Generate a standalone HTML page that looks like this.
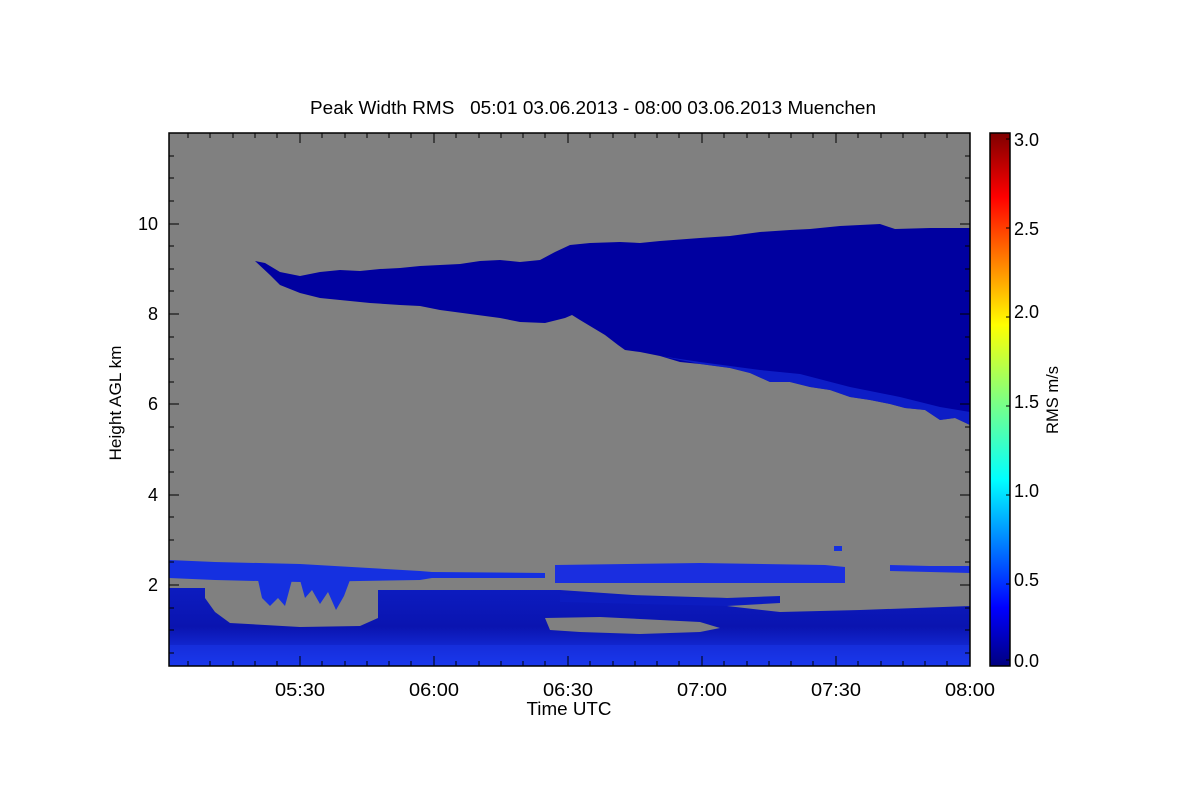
<!DOCTYPE html>
<html><head><meta charset="utf-8"><style>
body{margin:0;background:#fff;}
svg text{font-family:"Liberation Sans",sans-serif;fill:#000;}
</style></head><body>
<svg width="1200" height="800" viewBox="0 0 1200 800" xmlns="http://www.w3.org/2000/svg">
<defs>
<linearGradient id="cb" x1="0" y1="1" x2="0" y2="0">
<stop offset="0" stop-color="#00007f"/>
<stop offset="0.11" stop-color="#0000ff"/>
<stop offset="0.35" stop-color="#00ffff"/>
<stop offset="0.5" stop-color="#80ff80"/>
<stop offset="0.64" stop-color="#ffff00"/>
<stop offset="0.88" stop-color="#ff0000"/>
<stop offset="1" stop-color="#7f0000"/>
</linearGradient>
<linearGradient id="low" x1="0" y1="588" x2="0" y2="666" gradientUnits="userSpaceOnUse">
<stop offset="0" stop-color="#0c1cc0"/>
<stop offset="0.5" stop-color="#0a14b0"/>
<stop offset="1" stop-color="#1a3af0"/>
</linearGradient>
</defs>
<rect x="169" y="133" width="801" height="533" fill="#808080"/>
<!-- upper cloud -->
<polygon fill="#0000a0" points="255,261 265,263 280,272 300,276 320,272 340,270 360,271 380,269 400,268 420,266 440,265 460,264 480,261 500,260 520,262 540,260 555,252 570,245 590,243 620,242 640,243 660,241 700,238 730,236 760,232 790,230 810,229 840,226 880,224 895,229 930,228 970,228 970,425 955,418 940,420 925,410 905,408 890,404 870,400 850,397 830,390 810,387 790,382 770,382 750,373 730,368 700,364 680,362 660,356 640,352 625,350 618,345 605,335 590,326 580,320 572,315 565,318 545,323 520,322 500,318 470,314 440,310 420,306 400,305 370,303 340,300 320,298 300,293 280,285 270,275"/>
<polygon fill="#1530e0" opacity="0.6" points="660,356 700,362 760,370 800,374 850,387 900,397 940,407 970,412 970,425 955,418 940,420 925,410 905,408 890,404 870,400 850,397 830,390 810,387 790,382 770,382 750,373 730,368 700,364"/>
<!-- lower mass -->
<polygon fill="url(#low)" points="169,588 205,588 205,598 215,612 230,623 300,627 360,626 378,618 378,590 560,590 633,595 727,598 727,606 780,612 860,610 970,606 970,666 169,666"/>
<polygon fill="#808080" points="545,618 600,617 660,620 700,622 720,628 700,632 640,634 580,632 550,630"/>
<rect x="169" y="645" width="801" height="21" fill="#1a36e8" opacity="0.5"/>
<!-- bands -->
<polygon fill="#1530e0" points="169,560 215,562 300,564 420,571 432,572 545,573 545,578 432,578 420,580 300,582 215,580 169,578"/>
<polygon fill="#1530e0" points="258,580 262,598 270,606 278,598 285,606 292,580"/>
<polygon fill="#1530e0" points="300,580 305,598 312,590 320,604 328,592 336,610 344,596 350,580"/>
<polygon fill="#1a2ee0" points="555,565 700,563 825,565 845,567 845,583 700,583 555,583"/>
<polygon fill="#0c1cc0" points="560,594 633,596 727,598 780,596 780,603 727,606 640,604 560,602"/>
<polygon fill="#1a30e0" points="890,565 930,566 970,566 970,573 930,572 890,571"/>
<rect x="834" y="546" width="8" height="5" fill="#1530e0"/>
<!-- frame -->
<rect x="169" y="133" width="801" height="533" fill="none" stroke="#000" stroke-width="1.5"/>
<g stroke="#000" stroke-width="1">
<path d="M300,666v-10M434,666v-10M568,666v-10M702,666v-10M836,666v-10M300,133v10M434,133v10M568,133v10M702,133v10M836,133v10"/>
<path d="M188,666v-5M210,666v-5M233,666v-5M255,666v-5M277,666v-5M322,666v-5M345,666v-5M367,666v-5M389,666v-5M411,666v-5M456,666v-5M479,666v-5M501,666v-5M523,666v-5M545,666v-5M590,666v-5M613,666v-5M635,666v-5M657,666v-5M679,666v-5M724,666v-5M747,666v-5M769,666v-5M791,666v-5M813,666v-5M858,666v-5M881,666v-5M903,666v-5M925,666v-5M947,666v-5"/>
<path d="M188,133v5M210,133v5M233,133v5M255,133v5M277,133v5M322,133v5M345,133v5M367,133v5M389,133v5M411,133v5M456,133v5M479,133v5M501,133v5M523,133v5M545,133v5M590,133v5M613,133v5M635,133v5M657,133v5M679,133v5M724,133v5M747,133v5M769,133v5M791,133v5M813,133v5M858,133v5M881,133v5M903,133v5M925,133v5M947,133v5"/>
<path d="M169,224h10M169,314h10M169,404h10M169,495h10M169,585h10M970,224h-10M970,314h-10M970,404h-10M970,495h-10M970,585h-10"/>
<path d="M169,156h5M169,178h5M169,201h5M169,246h5M169,269h5M169,291h5M169,337h5M169,359h5M169,382h5M169,427h5M169,450h5M169,472h5M169,517h5M169,540h5M169,562h5M169,608h5M169,630h5M169,653h5"/>
<path d="M970,156h-5M970,178h-5M970,201h-5M970,246h-5M970,269h-5M970,291h-5M970,337h-5M970,359h-5M970,382h-5M970,427h-5M970,450h-5M970,472h-5M970,517h-5M970,540h-5M970,562h-5M970,608h-5M970,630h-5M970,653h-5"/>
</g>
<g font-size="18" text-anchor="end">
<text x="158" y="230">10</text><text x="158" y="320">8</text><text x="158" y="410">6</text><text x="158" y="501">4</text><text x="158" y="591">2</text>
</g>
<g font-size="18" text-anchor="middle">
<text x="300" y="696" textLength="50" lengthAdjust="spacingAndGlyphs">05:30</text>
<text x="434" y="696" textLength="50" lengthAdjust="spacingAndGlyphs">06:00</text>
<text x="568" y="696" textLength="50" lengthAdjust="spacingAndGlyphs">06:30</text>
<text x="702" y="696" textLength="50" lengthAdjust="spacingAndGlyphs">07:00</text>
<text x="836" y="696" textLength="50" lengthAdjust="spacingAndGlyphs">07:30</text>
<text x="970" y="696" textLength="50" lengthAdjust="spacingAndGlyphs">08:00</text>
<text x="569" y="715" textLength="85" lengthAdjust="spacingAndGlyphs">Time UTC</text>
<text x="593" y="114" textLength="566" lengthAdjust="spacingAndGlyphs" xml:space="preserve">Peak Width RMS   05:01 03.06.2013 - 08:00 03.06.2013 Muenchen</text>
</g>
<text font-size="17" text-anchor="middle" transform="translate(121,403) rotate(-90)" textLength="115" lengthAdjust="spacingAndGlyphs">Height AGL km</text>
<rect x="990" y="133" width="20" height="533" fill="url(#cb)" stroke="#000" stroke-width="1.5"/>
<g stroke="#000"><path d="M1010,139h-4M1010,228h-4M1010,317h-4M1010,406h-4M1010,495h-4M1010,584h-4M1010,660h-4"/></g>
<g font-size="18">
<text x="1014" y="146">3.0</text><text x="1014" y="235">2.5</text><text x="1014" y="318">2.0</text><text x="1014" y="408">1.5</text><text x="1014" y="497">1.0</text><text x="1014" y="586">0.5</text><text x="1014" y="667">0.0</text>
</g>
<text font-size="17" text-anchor="middle" transform="translate(1058,400) rotate(-90)" textLength="68" lengthAdjust="spacingAndGlyphs">RMS m/s</text>
</svg>
</body></html>
